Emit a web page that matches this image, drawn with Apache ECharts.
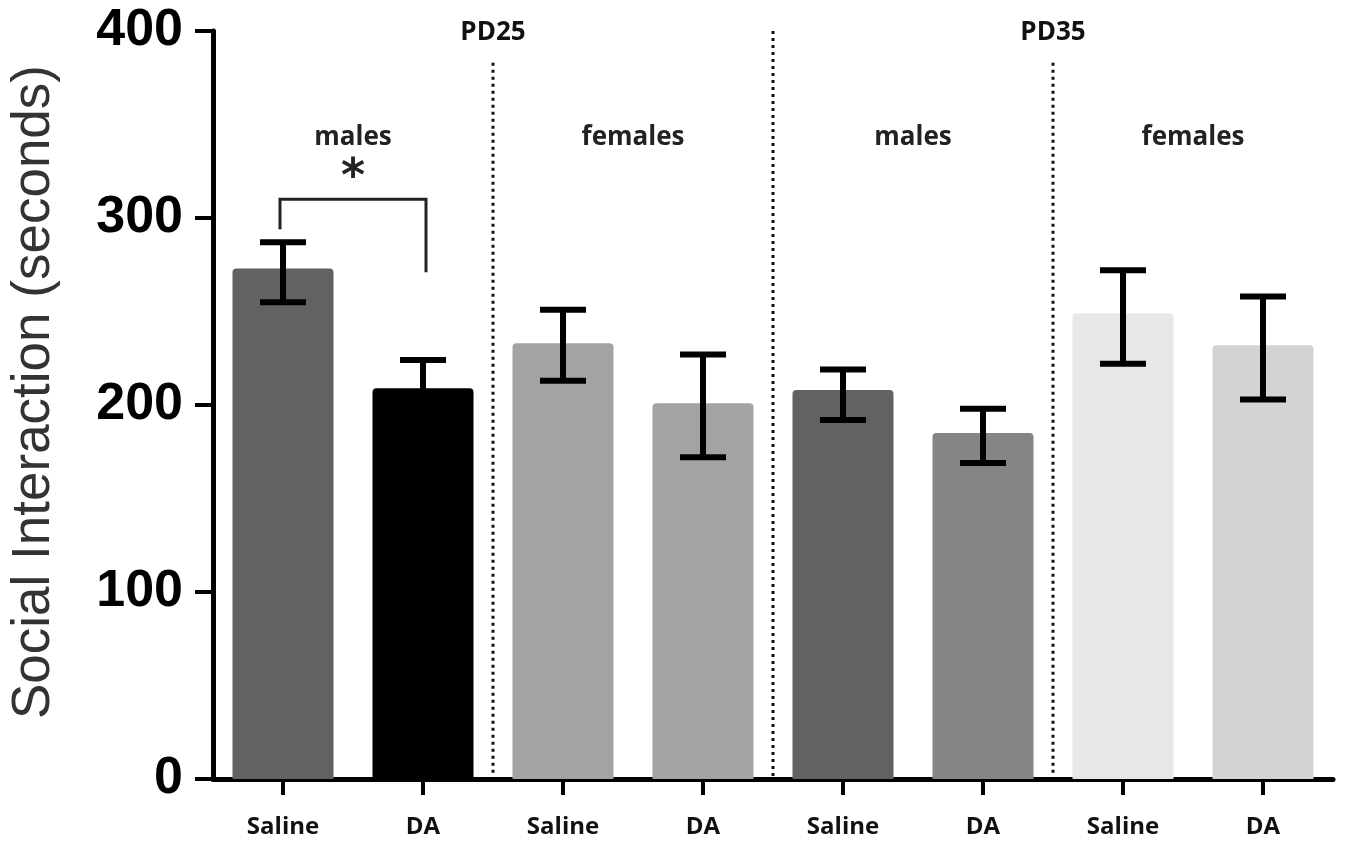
<!DOCTYPE html>
<html>
<head>
<meta charset="utf-8">
<script src="https://cdn.jsdelivr.net/npm/echarts@6/dist/echarts.min.js"></script>
<style>
html,body{margin:0;padding:0;background:#fff;}
#chart{width:1346px;height:848px;}
</style>
</head>
<body>
<div id="chart"></div>
<script>
// ---- data ----
var categories = ['PD25 males Saline','PD25 males DA','PD25 females Saline','PD25 females DA',
                  'PD35 males Saline','PD35 males DA','PD35 females Saline','PD35 females DA'];
var tickLabels = ['Saline','DA','Saline','DA','Saline','DA','Saline','DA'];
var means   = [273, 209, 233, 201, 208, 185, 249, 232];
var errLow  = [255, 194, 213, 172, 192, 169, 222, 203];
var errHigh = [287, 224, 251, 227, 219, 198, 272, 258];
var barColors = ['#626262','#000000','#a3a3a6','#a3a3a6','#626262','#858585','#e7e7e7','#d3d3d3'];
var yTicks = [0, 100, 200, 300, 400];
var groupLabels = ['males','females','males','females'];
var ageLabels = ['PD25','PD35'];

var chart = echarts.init(document.getElementById('chart'));

var barData = means.map(function (v, i) {
  return { value: v, itemStyle: { color: barColors[i] } };
});
var errData = means.map(function (v, i) { return [i, errLow[i], errHigh[i]]; });

function midX(api, i) {
  var a = api.coord([i, 0])[0], b = api.coord([i + 1, 0])[0];
  return (a + b) / 2;
}

var option = {
  backgroundColor: '#ffffff',
  animation: false,
  grid: { left: 213, right: 13, top: 31, bottom: 69, outerBoundsMode: 'none', containLabel: false },
  xAxis: {
    type: 'category',
    data: categories,
    axisLine: { lineStyle: { color: '#000', width: 5 } },
    axisTick: { show: true, alignWithLabel: true, length: 16, lineStyle: { color: '#000', width: 4 } },
    axisLabel: {
      margin: 36, color: '#111', fontFamily: 'Open Sans', fontWeight: 'bold', fontSize: 24,
      formatter: function (v, i) { return tickLabels[i]; }
    }
  },
  yAxis: {
    type: 'value', min: yTicks[0], max: yTicks[yTicks.length - 1], interval: 100,
    name: 'Social Interaction (seconds)', nameLocation: 'middle', nameRotate: 90, nameGap: 152,
    nameTextStyle: { fontFamily: 'Liberation Sans', fontSize: 53, color: '#333', padding: [0, 0, 0, 26] },
    axisLine: { show: true, lineStyle: { color: '#000', width: 5 } },
    axisTick: { show: true, length: 18, lineStyle: { color: '#000', width: 4 } },
    axisLabel: { margin: 30, color: '#000', fontFamily: 'Liberation Sans', fontWeight: 'bold', fontSize: 52 },
    splitLine: { show: false }
  },
  series: [
    {
      type: 'bar', data: barData, barWidth: 101, z: 2,
      itemStyle: { borderRadius: [4, 4, 0, 0] }
    },
    {
      type: 'custom', z: 5, data: errData,
      renderItem: function (params, api) {
        var x = api.coord([api.value(0), 0])[0];
        var lo = api.coord([api.value(0), api.value(1)])[1];
        var hi = api.coord([api.value(0), api.value(2)])[1];
        var hw = 23;
        var st = { stroke: '#000', lineWidth: 6, fill: null };
        return {
          type: 'group', children: [
            { type: 'line', shape: { x1: x, y1: lo, x2: x, y2: hi }, style: st },
            { type: 'line', shape: { x1: x - hw, y1: hi, x2: x + hw, y2: hi }, style: st },
            { type: 'line', shape: { x1: x - hw, y1: lo, x2: x + hw, y2: lo }, style: st }
          ]
        };
      }
    },
    {
      type: 'custom', z: 4, data: [0],
      renderItem: function (params, api) {
        var kids = [];
        var yAxisBottom = api.coord([0, 0])[1];
        var dotStyle = { stroke: '#111', lineWidth: 3, lineDash: [3, 4], fill: null };
        var divs = [[1, 383], [3, 400], [5, 383]];
        divs.forEach(function (d) {
          var x = midX(api, d[0]);
          kids.push({ type: 'line', shape: { x1: x, y1: api.coord([0, d[1]])[1], x2: x, y2: yAxisBottom - 3 }, style: dotStyle });
        });
        ageLabels.forEach(function (t, k) {
          var x = midX(api, k === 0 ? 1 : 5);
          kids.push({ type: 'text', x: x, y: api.coord([0, 399])[1],
            style: { text: t, fontFamily: 'Open Sans', fontWeight: 'bold', fontSize: 26, fill: '#111', align: 'center', verticalAlign: 'middle' } });
        });
        groupLabels.forEach(function (t, k) {
          var x = midX(api, k * 2);
          kids.push({ type: 'text', x: x, y: api.coord([0, 343])[1],
            style: { text: t, fontFamily: 'Open Sans', fontWeight: 'bold', fontSize: 26, fill: '#222', align: 'center', verticalAlign: 'middle' } });
        });
        var xl = api.coord([0, 0])[0] - 3, xr = api.coord([1, 0])[0] + 3;
        var yTop = api.coord([0, 310])[1], yL = api.coord([0, 294])[1], yR = api.coord([0, 271])[1];
        kids.push({ type: 'polyline', shape: { points: [[xl, yL], [xl, yTop], [xr, yTop], [xr, yR]] },
          style: { stroke: '#222', lineWidth: 3, fill: null } });
        kids.push({ type: 'text', x: (xl + xr) / 2, y: api.coord([0, 321])[1],
          style: { text: '*', fontFamily: 'DejaVu Sans', fontWeight: 'bold', fontSize: 46, fill: '#222', align: 'center', verticalAlign: 'middle' } });
        return { type: 'group', children: kids };
      }
    }
  ]
};
chart.setOption(option);
</script>
</body>
</html>
